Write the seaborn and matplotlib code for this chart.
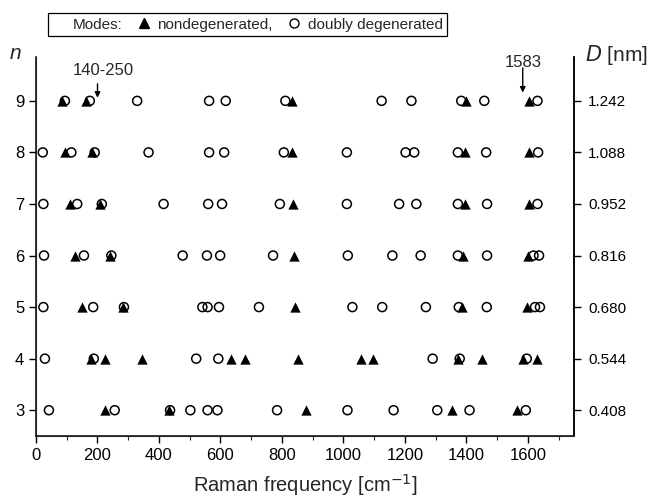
import pandas as pd
import seaborn as sns
import matplotlib.pyplot as plt
from matplotlib.lines import Line2D
from matplotlib.ticker import MultipleLocator

# Raman modes of (n,n) tubes
n_values = [3, 4, 5, 6, 7, 8, 9]
d_labels = ['0.408', '0.544', '0.680', '0.816', '0.952', '1.088', '1.242']

# nondegenerated modes (filled triangles)
tri_3 = [225, 432, 879, 1352, 1565]
tri_4 = [180, 223, 344, 633, 679, 852, 1056, 1097, 1372, 1450, 1583, 1628]
tri_5 = [151, 283, 841, 1385, 1597]
tri_6 = [128, 242, 838, 1388, 1599]
tri_7 = [110, 207, 835, 1394, 1602]
tri_8 = [94, 182, 832, 1396, 1604]
tri_9 = [84, 162, 833, 1399, 1604]

# doubly degenerated modes (open circles)
circ_3 = [42, 256, 436, 502, 558, 590, 784, 1013, 1163, 1305, 1410, 1593]
circ_4 = [29, 188, 521, 593, 1290, 1378, 1596]
circ_5 = [24, 186, 286, 541, 558, 595, 725, 1029, 1126, 1268, 1375, 1466, 1623, 1639]
circ_6 = [26, 156, 245, 477, 556, 599, 771, 1014, 1159, 1251, 1372, 1467, 1618, 1636]
circ_7 = [24, 134, 214, 415, 560, 605, 793, 1011, 1181, 1237, 1372, 1467, 1631]
circ_8 = [22, 115, 191, 366, 563, 612, 806, 1011, 1202, 1230, 1372, 1464, 1633]
circ_9 = [94, 175, 329, 563, 617, 811, 1124, 1221, 1383, 1458, 1631]

tri_rows = [tri_3, tri_4, tri_5, tri_6, tri_7, tri_8, tri_9]
circ_rows = [circ_3, circ_4, circ_5, circ_6, circ_7, circ_8, circ_9]

frames = []
for n, tri, circ in zip(n_values, tri_rows, circ_rows):
    frames.append(pd.DataFrame({'freq': tri, 'n': n, 'mode': 'nondegenerated'}))
    frames.append(pd.DataFrame({'freq': circ, 'n': n, 'mode': 'doubly degenerated'}))
df = pd.concat(frames, ignore_index=True)

sns.set_style('ticks')
plt.rcParams['font.family'] = ['Liberation Sans', 'DejaVu Sans']

fig = plt.figure(figsize=(6.57, 4.98), dpi=100)
ax = fig.add_axes([0.0548, 0.1245, 0.819, 0.761])

sns.scatterplot(data=df[df['mode'] == 'nondegenerated'], x='freq', y='n',
                marker='^', s=55, color='black', edgecolor='black', linewidth=0,
                ax=ax, zorder=3, legend=False)
sns.scatterplot(data=df[df['mode'] == 'doubly degenerated'], x='freq', y='n',
                marker='o', s=42, facecolor='none', edgecolor='black', linewidth=1.1,
                ax=ax, zorder=4, legend=False)

ax.set_xlim(0, 1750)
ax.set_ylim(2.5, 9.85)
ax.xaxis.set_major_locator(MultipleLocator(200))
ax.xaxis.set_minor_locator(MultipleLocator(100))
ax.set_yticks(n_values)
ax.set_xlabel('Raman frequency [cm$^{-1}$]', fontsize=14.5, labelpad=7)
ax.set_ylabel('')
ax.tick_params(axis='both', direction='out', length=5, width=1, labelsize=12, colors='black')
ax.tick_params(axis='x', which='minor', direction='out', length=3, width=0.8)
ax.spines['top'].set_visible(False)
for sp in ['left', 'bottom', 'right']:
    ax.spines[sp].set_linewidth(1.1)
    ax.spines[sp].set_color('black')

ax2 = ax.twinx()
ax2.set_ylim(ax.get_ylim())
ax2.set_yticks(n_values)
ax2.set_yticklabels(d_labels)
ax2.tick_params(axis='y', direction='out', length=5, width=1, pad=5, labelsize=11, colors='black')
ax2.spines['top'].set_visible(False)
ax2.spines['right'].set_linewidth(1.1)
ax2.spines['right'].set_color('black')

# arrows marking the mode ranges
arrow_kw = dict(arrowstyle='-|>', color='black', lw=1, mutation_scale=8, shrinkA=0, shrinkB=0)
ax.annotate('', xy=(200, 9.06), xytext=(200, 9.33), arrowprops=arrow_kw)
ax.text(218, 9.58, '140-250', ha='center', va='center', fontsize=12)
ax.annotate('', xy=(1583, 9.16), xytext=(1583, 9.64), arrowprops=arrow_kw)
ax.text(1585, 9.74, '1583', ha='center', va='center', fontsize=12)

fig.text(0.024, 0.893, 'n', fontsize=15, style='italic', ha='center', va='center')
fig.text(0.89, 0.89, '$D$ [nm]', fontsize=15, ha='left', va='center')

handles = [Line2D([], [], linestyle='none'),
           Line2D([], [], linestyle='none', marker='^', color='black', markersize=7.5),
           Line2D([], [], linestyle='none', marker='o', markerfacecolor='none',
                  markeredgecolor='black', markersize=6.5)]
labels = ['Modes:', 'nondegenerated,', 'doubly degenerated']
leg = fig.legend(handles, labels, ncol=3, loc='upper left', bbox_to_anchor=(0.073, 0.974),
                 borderaxespad=0, frameon=True, fancybox=False, edgecolor='black',
                 fontsize=11, handlelength=0.8, handletextpad=0.5, columnspacing=1.0,
                 borderpad=0.3, framealpha=1)
leg.get_frame().set_linewidth(0.9)

fig.savefig('out.png', dpi=100)
